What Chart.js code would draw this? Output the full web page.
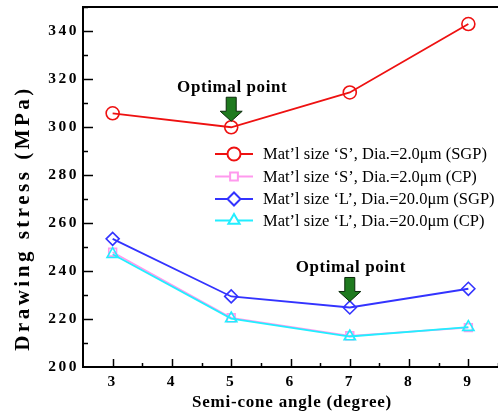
<!DOCTYPE html>
<html>
<head>
<meta charset="utf-8">
<script src="https://cdn.jsdelivr.net/npm/chart.js@4"></script>
<style>
  html, body { margin: 0; padding: 0; background: #fff; }
  #wrap { width: 498px; height: 414px; }
</style>
</head>
<body>
<div id="wrap"><canvas id="chart" width="498" height="414"></canvas></div>
<script>
const angles = [3, 5, 7, 9];
const sgpSmall = [305.7, 299.9, 314.4, 342.9];
const cpSmall = [247.8, 220.5, 213.0, 216.4];
const sgpLarge = [253.4, 229.4, 224.8, 232.6];
const cpLarge = [247.0, 220.2, 212.7, 216.6];
const xTicks = [3, 4, 5, 6, 7, 8, 9];
const yTicks = [200, 220, 240, 260, 280, 300, 320, 340];
const optimal = [{ x: 5, y: 299.9 }, { x: 7, y: 224.8 }];

const serif = '"Liberation Serif", "Times New Roman", serif';

const pts = vals => vals.map((v, i) => ({ x: angles[i], y: v }));

const series = [
  { label: "Mat\u2019l size \u2018S\u2019, Dia.=2.0\u03bcm (SGP)", data: sgpSmall, color: "#ee1111", style: "circle", r: 6.5, order: 1 },
  { label: "Mat\u2019l size \u2018S\u2019, Dia.=2.0\u03bcm (CP)", data: cpSmall, color: "#ff99ee", style: "rect", r: 5.5, order: 3 },
  { label: "Mat\u2019l size \u2018L\u2019, Dia.=20.0\u03bcm (SGP)", data: sgpLarge, color: "#3333ff", style: "rectRot", r: 6.5, order: 2 },
  { label: "Mat\u2019l size \u2018L\u2019, Dia.=20.0\u03bcm (CP)", data: cpLarge, color: "#22eeff", style: "triangle", r: 6.5, order: 0 }
];

function drawArrow(ctx, x, tipY) {
  ctx.save();
  ctx.beginPath();
  ctx.moveTo(x - 5, tipY - 24);
  ctx.lineTo(x + 5, tipY - 24);
  ctx.lineTo(x + 5, tipY - 10);
  ctx.lineTo(x + 11, tipY - 10);
  ctx.lineTo(x, tipY);
  ctx.lineTo(x - 11, tipY - 10);
  ctx.lineTo(x - 5, tipY - 10);
  ctx.closePath();
  ctx.fillStyle = "#1f7a1f";
  ctx.fill();
  ctx.strokeStyle = "#0a2a0a";
  ctx.lineWidth = 1;
  ctx.stroke();
  ctx.restore();
}

const decor = {
  id: "decor",
  beforeDraw(chart) {
    chart.ctx.letterSpacing = "2.5px";
  },
  beforeDatasetsDraw(chart) {
    chart.ctx.letterSpacing = "0px";
  },
  afterDraw(chart) {
    const ctx = chart.ctx;
    const { left, right, top, bottom } = chart.chartArea;
    const xs = chart.scales.x, ys = chart.scales.y;
    ctx.save();
    ctx.letterSpacing = "0px";
    ctx.strokeStyle = "#000";

    // top frame line
    ctx.lineWidth = 2;
    ctx.beginPath();
    ctx.moveTo(left - 1, top);
    ctx.lineTo(right, top);
    ctx.stroke();

    // inward tick marks
    ctx.lineWidth = 1.5;
    for (let v = 3; v <= 9.5; v += 0.5) {
      const px = Math.round(xs.getPixelForValue(v)) + 0.5;
      const len = Number.isInteger(v) ? 8 : 4;
      ctx.beginPath();
      ctx.moveTo(px, bottom);
      ctx.lineTo(px, bottom - len);
      ctx.stroke();
    }
    for (let v = 210; v <= 350; v += 10) {
      const py = Math.round(ys.getPixelForValue(v)) + 0.5;
      const len = v % 20 === 0 ? 10 : 5;
      ctx.beginPath();
      ctx.moveTo(left, py);
      ctx.lineTo(left + len, py);
      ctx.stroke();
    }

    // axis titles
    ctx.fillStyle = "#000";
    ctx.textAlign = "center";
    ctx.textBaseline = "middle";
    ctx.font = "bold 17px " + serif;
    ctx.letterSpacing = "0.8px";
    ctx.fillText("Semi-cone angle (degree)", 292, 403);
    ctx.save();
    ctx.translate(24, 218);
    ctx.rotate(-Math.PI / 2);
    ctx.font = "bold 21px " + serif;
    ctx.letterSpacing = "3.5px";
    ctx.fillText("Drawing stress (MPa)", 0, 0);
    ctx.restore();

    // optimal point annotations
    ctx.font = "bold 17px " + serif;
    ctx.letterSpacing = "0.6px";
    optimal.forEach(p => {
      const px = xs.getPixelForValue(p.x);
      const tip = ys.getPixelForValue(p.y) - 6;
      drawArrow(ctx, px, tip);
      ctx.fillStyle = "#000";
      ctx.fillText("Optimal point", px + 1, tip - 34);
    });

    // legend
    ctx.letterSpacing = "0px";
    ctx.font = "16.5px " + serif;
    ctx.textAlign = "left";
    const legY = [154, 176.5, 199, 220.5];
    series.forEach((s, i) => {
      const y = legY[i];
      ctx.strokeStyle = s.color;
      ctx.lineWidth = 2;
      ctx.beginPath();
      ctx.moveTo(215, y);
      ctx.lineTo(253, y);
      ctx.stroke();
      ctx.fillStyle = "#fff";
      Chart.helpers.drawPoint(ctx, { pointStyle: s.style, radius: s.r, rotation: 0, borderWidth: 1.8 }, 234, y);
      ctx.fillStyle = "#000";
      ctx.fillText(s.label, 263, y + 1);
    });
    ctx.restore();
  }
};

new Chart(document.getElementById("chart"), {
  type: "line",
  data: {
    datasets: series.map(s => ({
      label: s.label,
      data: pts(s.data),
      borderColor: s.color,
      backgroundColor: "rgba(255,255,255,0)",
      borderWidth: 1.8,
      pointStyle: s.style,
      pointRadius: s.r,
      pointBorderWidth: 1.6,
      pointBorderColor: s.color,
      pointBackgroundColor: "rgba(255,255,255,0)",
      tension: 0,
      fill: false,
      order: s.order
    }))
  },
  options: {
    responsive: false,
    animation: false,
    events: [],
    layout: { autoPadding: false, padding: { top: 7, right: 0, left: 0, bottom: 0 } },
    plugins: { legend: { display: false }, tooltip: { enabled: false } },
    scales: {
      x: {
        type: "linear",
        min: 2.5,
        max: 9.5,
        afterBuildTicks: axis => { axis.ticks = xTicks.map(v => ({ value: v })); },
        afterFit: axis => { axis.height = 47; axis.paddingLeft = 0; axis.paddingRight = 0; },
        grid: { display: false, drawTicks: false },
        border: { display: true, color: "#000", width: 2 },
        ticks: {
          color: "#000",
          padding: 6,
          maxRotation: 0,
          font: { family: serif, size: 15.5, weight: "bold" }
        }
      },
      y: {
        type: "linear",
        min: 200,
        max: 350,
        afterBuildTicks: axis => { axis.ticks = yTicks.map(v => ({ value: v })); },
        afterFit: axis => { axis.width = 83; axis.paddingTop = 0; axis.paddingBottom = 0; },
        grid: { display: false, drawTicks: false },
        border: { display: true, color: "#000", width: 2 },
        ticks: {
          color: "#000",
          padding: 4,
          font: { family: serif, size: 15.5, weight: "bold" }
        }
      }
    }
  },
  plugins: [decor]
});
</script>
</body>
</html>
